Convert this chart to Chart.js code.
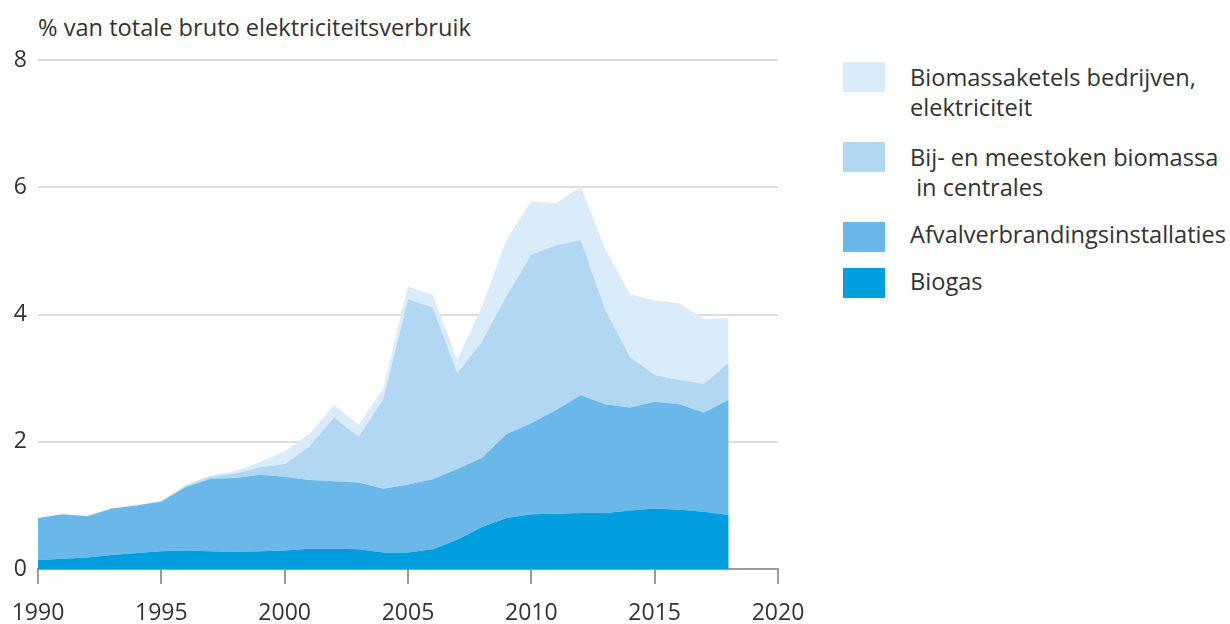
<!DOCTYPE html>
<html>
<head>
<meta charset="utf-8">
<script src="https://cdn.jsdelivr.net/npm/chart.js@4.4.1/dist/chart.umd.min.js"></script>
<style>
html,body{margin:0;padding:0;background:#fff;}
body{width:1230px;height:624px;position:relative;overflow:hidden;font-family:"Open Sans",sans-serif;color:#333;}
#wrap{position:absolute;left:0;top:0;width:830px;height:624px;}
#ytitle{position:absolute;left:38px;top:15px;font-size:23.6px;line-height:24px;white-space:nowrap;color:#333;}
.sw{position:absolute;left:843px;width:42px;height:30px;}
.lt{position:absolute;left:910px;font-size:23.6px;line-height:30px;white-space:pre;color:#333;}
</style>
</head>
<body>
<div id="ytitle">% van totale bruto elektriciteitsverbruik</div>
<div id="wrap"><canvas id="c"></canvas></div>
<div id="legend"></div>
<script>
// ---- data (values in % of total gross electricity consumption) ----
const years = [1990,1991,1992,1993,1994,1995,1996,1997,1998,1999,2000,2001,2002,2003,2004,2005,2006,2007,2008,2009,2010,2011,2012,2013,2014,2015,2016,2017,2018];
const biogas = [0.14,0.16,0.18,0.22,0.25,0.28,0.29,0.28,0.27,0.28,0.29,0.32,0.32,0.31,0.26,0.26,0.31,0.46,0.66,0.80,0.86,0.87,0.88,0.88,0.92,0.95,0.93,0.90,0.85];
const afval = [0.66,0.70,0.65,0.73,0.75,0.78,1.00,1.14,1.16,1.20,1.16,1.08,1.06,1.05,1.00,1.07,1.10,1.11,1.09,1.32,1.43,1.63,1.85,1.71,1.62,1.68,1.66,1.56,1.81];
const meestoken = [0,0,0,0,0,0,0.02,0.03,0.07,0.12,0.20,0.52,1.00,0.72,1.41,2.91,2.70,1.51,1.82,2.18,2.65,2.59,2.44,1.48,0.79,0.42,0.38,0.45,0.58];
const ketels = [0,0,0.01,0.01,0.01,0.01,0.02,0.02,0.04,0.08,0.20,0.20,0.20,0.18,0.17,0.20,0.20,0.21,0.55,0.88,0.84,0.66,0.84,0.95,0.99,1.17,1.21,1.02,0.70];
const seriesNames = ["Biogas","Afvalverbrandingsinstallaties","Bij- en meestoken biomassa\n in centrales","Biomassaketels bedrijven,\nelektriciteit"];
const xTickLabels = [1990,1995,2000,2005,2010,2015,2020];
const yTickLabels = [0,2,4,6,8];

const colors = ["#009DDF","#6AB8E9","#B2D7F3","#DAEBFA"];
const seriesValues = [biogas, afval, meestoken, ketels];

const datasets = seriesValues.map((vals,i)=>({
  label: seriesNames[i],
  data: years.map((y,j)=>({x:y,y:vals[j]})),
  backgroundColor: colors[i],
  borderColor: colors[i],
  borderWidth: 0,
  pointRadius: 0,
  pointHoverRadius: 0,
  tension: 0,
  fill: i===0 ? 'origin' : '-1'
}));

Chart.defaults.font.family = '"Open Sans", sans-serif';
Chart.defaults.color = '#333';

new Chart(document.getElementById('c'), {
  type: 'line',
  data: { datasets },
  options: {
    responsive: true,
    maintainAspectRatio: false,
    animation: false,
    events: [],
    layout: { padding: { top: 60, right: 52, bottom: 0, left: 0 } },
    plugins: { legend: { display: false }, tooltip: { enabled: false }, title: { display: false } },
    scales: {
      x: {
        type: 'linear',
        min: 1990, max: 2020,
        z: 1,
        afterBuildTicks: s => { s.ticks = xTickLabels.map(v=>({value:v})); },
        afterFit: s => { s.height = 55; s.paddingLeft = 0; s.paddingRight = 0; },
        ticks: { font: { size: 23 }, padding: 16, maxRotation: 0, autoSkip: false, callback: v => String(v) },
        grid: { drawOnChartArea: false, drawTicks: true, tickLength: 15, color: '#9a9a9a', lineWidth: 2 },
        border: { display: true, color: '#9a9a9a', width: 2 }
      },
      y: {
        stacked: true,
        min: 0, max: 8,
        afterBuildTicks: s => { s.ticks = yTickLabels.map(v=>({value:v})); },
        afterFit: s => { s.width = 38; },
        ticks: { font: { size: 23 }, padding: 11 },
        grid: { drawTicks: false, color: '#dcdcdc', lineWidth: 2 },
        border: { display: false }
      }
    }
  }
});

// ---- HTML legend (real text) ----
const legendOrder = [3,2,1,0];
const swTops = [62,142,222,268];
const txtTops = [62,142,219,266];
const leg = document.getElementById('legend');
legendOrder.forEach((si,k)=>{
  const sw = document.createElement('div');
  sw.className = 'sw'; sw.style.top = swTops[k]+'px'; sw.style.background = colors[si];
  const t = document.createElement('div');
  t.className = 'lt'; t.style.top = txtTops[k]+'px'; t.textContent = seriesNames[si];
  leg.appendChild(sw); leg.appendChild(t);
});
</script>
</body>
</html>
